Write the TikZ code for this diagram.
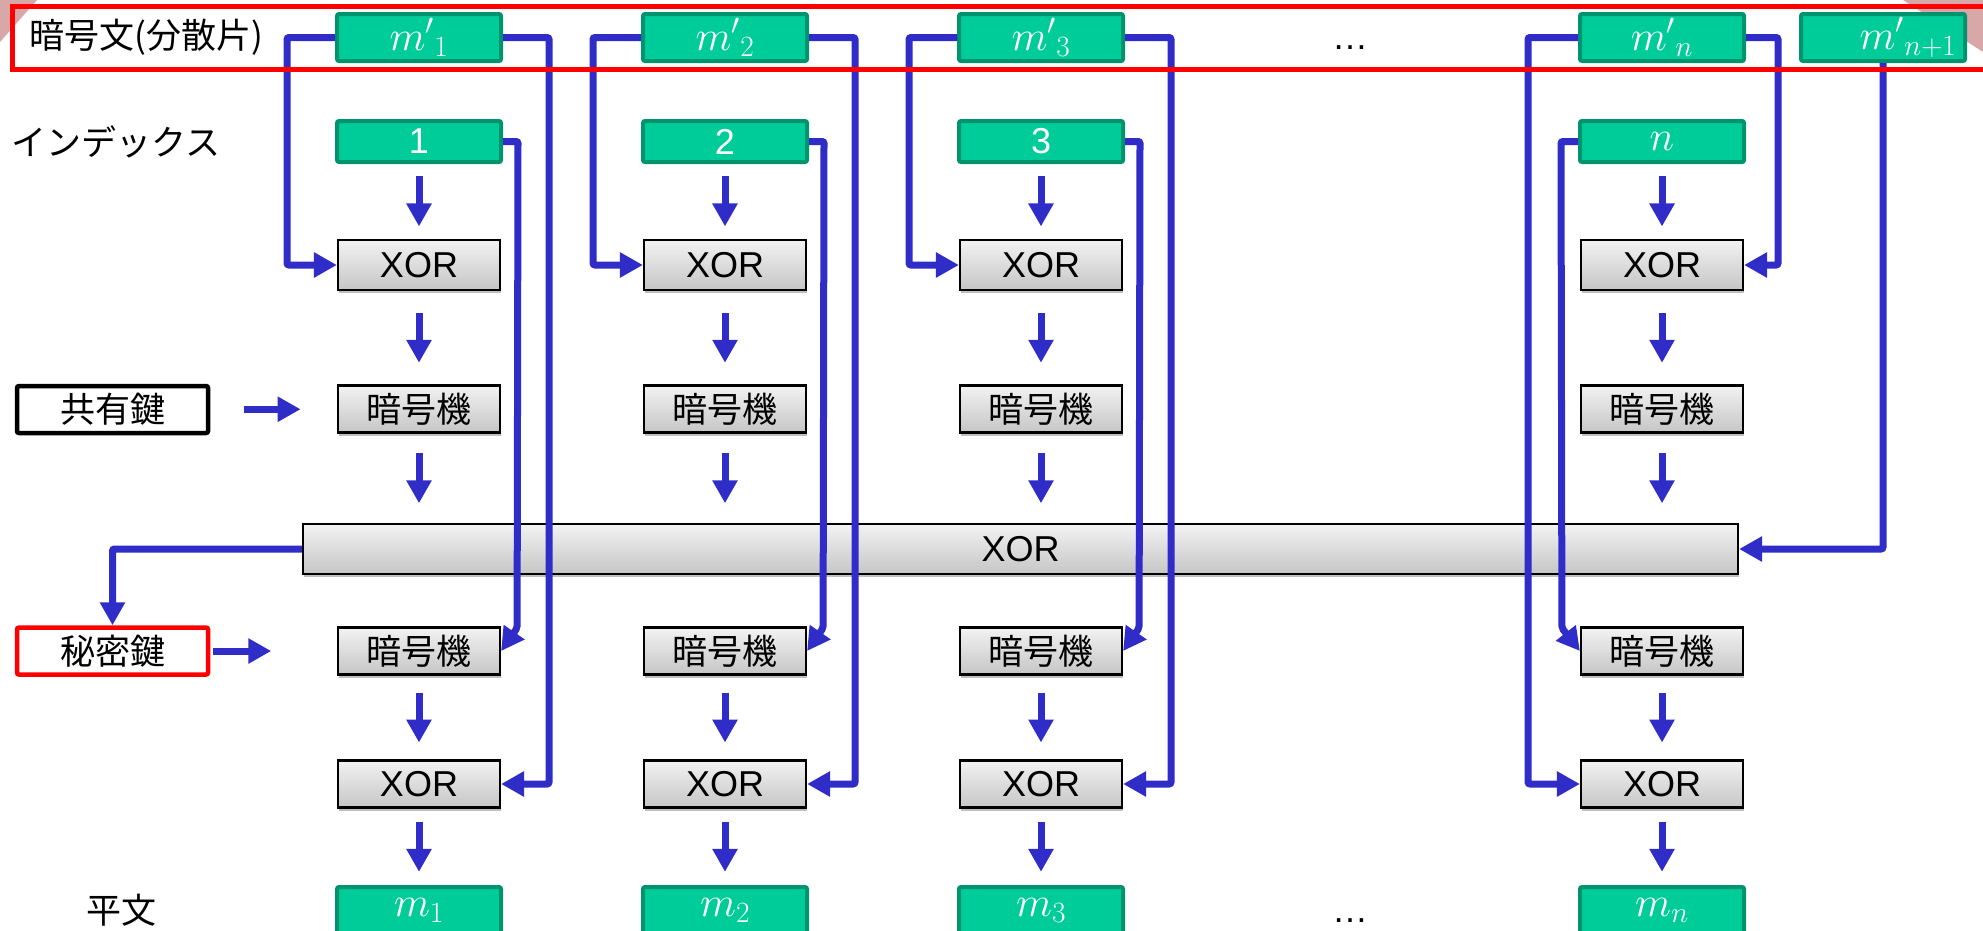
\RequirePackage{fix-cm}
\documentclass[tikz,border=0pt]{standalone}
\usepackage[no-math]{fontspec}
\setmainfont{Liberation Sans}
\newfontfamily\jp{Noto Sans CJK JP}
\usetikzlibrary{arrows.meta,shadows,calc}

\definecolor{flowblue}{RGB}{48,44,200}
\definecolor{tealfill}{RGB}{0,204,153}
\definecolor{tealedge}{RGB}{0,148,110}
\definecolor{cornerpink}{RGB}{216,168,168}

\tikzset{
  every node/.style={font=\fontsize{36}{40}\selectfont, inner sep=0pt},
  jp/.style={font=\jp\fontsize{35}{40}\selectfont},
  mathsize/.style={font=\fontsize{42}{46}\selectfont},
  datum/.style={draw=tealedge, fill=tealfill, line width=4pt, rounded corners=2pt,
    text=white, minimum width=164pt, minimum height=47pt},
  unit/.style={draw=black, line width=2.2pt, top color=gray!10, bottom color=gray!45,
    minimum width=162pt, minimum height=47pt,
    drop shadow={shadow xshift=1pt, shadow yshift=-3pt, opacity=0.25, fill=black}},
  keybox/.style={line width=4.5pt, fill=white, rounded corners=2pt,
    minimum width=191pt, minimum height=47pt},
  link/.style={draw=flowblue, line width=7pt, rounded corners=2pt,
    -{Triangle[length=23pt,width=24pt]}},
}

\begin{document}
\begin{tikzpicture}[x=1pt,y=-1pt]
\useasboundingbox (0,0) rectangle (1983,930);
\clip (0,0) rectangle (1983,930);
\fill[white] (0,0) rectangle (1983,930);
% slide corner decorations
\fill[cornerpink] (0,0) -- (37,0) -- (0,42) -- cycle;
\fill[cornerpink] (1903,0) -- (1983,0) -- (1983,52) -- cycle;

% row labels and keys
\node[jp, anchor=west] (lcipher) at (29,37) {暗号文(分散片)};
\node[jp, anchor=west] (lindex) at (11,142) {インデックス};
\node[jp, anchor=west] (lplain) at (86,910) {平文};
\node[keybox, draw=black, jp] (shared) at (112.5,409.5) {共有鍵};
\node[keybox, draw=red, jp] (secret) at (112.5,651) {秘密鍵};

% one column per share
\foreach \c/\x/\lab/\labfont in {1/419/1/, 2/725/2/, 3/1041/3/, n/1662/$n$/mathsize}{
  \node[datum, mathsize] (mp\c) at (\x,37.5) {${m'}_{\c}$};
  \node[datum, minimum height=41pt, \labfont] (ix\c) at (\x,141.5) {\lab};
  \node[unit, minimum height=50pt] (xa\c) at (\x,265) {XOR};
  \node[unit, jp] (ea\c) at (\x,409) {暗号機};
  \node[unit, jp] (eb\c) at (\x,651) {暗号機};
  \node[unit] (xb\c) at (\x,784) {XOR};
  \node[datum, mathsize] (m\c) at (\x,910.5) {$m_{\c}$};
}
\node[datum, mathsize] (mpx) at (1883,37.5) {\hspace*{50pt}${m'}_{n+1}$};
\node[unit, minimum width=1435pt, minimum height=50pt] (bar) at (1020.5,549) {XOR};
\node[anchor=base] (dtop) at (1350,49) {…};
\node[anchor=base] (dbot) at (1350,922) {…};

% share and index routing
\foreach \c in {1,2,3}{
  \draw[link] (mp\c.west) -- ++(-48,0) |- (xa\c.west);
  \draw[link] (mp\c.east) -- ++(46,0) |- (xb\c.east);
  \draw[link] (ix\c.east) -- ++(15,0) -- ($(eb\c.east)+(16,-23)$) -- (eb\c.east);
}
\draw[link] (mpn.west) -- ++(-50,0) |- (xbn.west);
\draw[link] (mpn.east) -- ++(32,0) |- (xan.east);
\draw[link] (ixn.west) -- ++(-17,0) -- ($(ebn.west)+(-18,-23)$) -- (ebn.west);
\draw[link] (mpx.south) |- (bar.east);
\draw[link] (bar.west) -| (secret.north);
\draw[link] ($(shared.east)!.5!(ea1.west)+(-30,0)$) -- ++(57,0);
\draw[link] ([xshift=3pt]secret.east) -- ++(58,0);

% short downward arrows inside each column
\foreach \c in {1,2,3,n}{
  \foreach \a/\b in {ix/xa, xa/ea, eb/xb, xb/m}{
    \draw[link] ($(\a\c.south)!.5!(\b\c.north)+(0,-25)$) -- ++(0,50);
  }
  \draw[link] ($(ea\c.south)!.5!(ea\c.south|-bar.north)+(0,-25)$) -- ++(0,50);
}

% frame round the ciphertext row
\draw[red, line width=5pt] (12,6.5) rectangle (2000,69.5);
\end{tikzpicture}
\end{document}
